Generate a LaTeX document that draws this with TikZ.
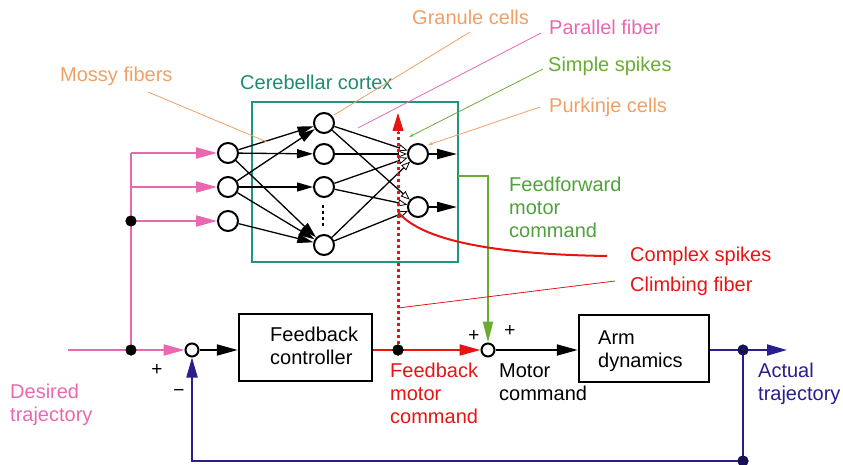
\documentclass[tikz,border=0pt]{standalone}
\usepackage{fontspec}
\setmainfont{Liberation Sans}
\usetikzlibrary{arrows.meta}
\definecolor{cpink}{RGB}{232,105,175}
\definecolor{corange}{RGB}{240,160,100}
\definecolor{cgreen}{RGB}{105,172,50}
\definecolor{cgreent}{RGB}{80,160,60}
\definecolor{cteal}{RGB}{30,150,130}
\definecolor{ctealt}{RGB}{30,140,110}
\definecolor{cred}{RGB}{232,20,20}
\definecolor{cnavy}{RGB}{40,30,140}
\begin{document}
\begin{tikzpicture}[x=1pt,y=-1pt,
  every node/.style={inner sep=0pt},
  lbl/.style={anchor=base west, align=left, font=\fontsize{20}{23}\selectfont},
  pm/.style={font=\fontsize{19}{19}\selectfont},
  neuron/.style={circle, draw, line width=2pt, minimum size=20pt, fill=white},
  sumn/.style={circle, draw, line width=2pt, minimum size=13pt, fill=white},
  jdot/.style={circle, fill, minimum size=11pt},
  blk/.style={draw, line width=2.5pt, fill=white},
  syn/.style={line width=1.3pt, -{Triangle[length=16pt,width=9pt]}},
  psyn/.style={line width=1.3pt, -{Triangle[open,length=9pt,width=7pt,fill=white,line width=0.8pt]}},
  outa/.style={line width=2pt, -{Triangle[length=20pt,width=10pt]}},
  big/.style={line width=2pt, -{Triangle[length=21pt,width=11pt]}},
  note/.style={line width=0.8pt},
  notea/.style={line width=0.8pt, -{Stealth[length=5pt,width=3pt]}},
]
\useasboundingbox (0,0) rectangle (843,465);

% ---------- cortex box ----------
\node[draw=cteal, line width=2pt, minimum width=206pt, minimum height=160pt] (cortex) at (355,182) {};
\node[lbl, text=ctealt] (lcortex) at (240,90) {Cerebellar cortex};

% ---------- neurons ----------
\node[neuron] (i1) at (228,153) {};
\node[neuron] (i2) at (228,187) {};
\node[neuron] (i3) at (228,221) {};
\node[neuron] (g1) at (324,123) {};
\node[neuron] (g2) at (324,154) {};
\node[neuron] (g3) at (324,187) {};
\node[neuron] (g4) at (324,245) {};
\node[neuron] (p1) at (418,154) {};
\node[neuron] (p2) at (418,207) {};
\coordinate (d1) at (323,205);
\coordinate (d2) at (323,227);
\draw[line width=1.5pt, dash pattern=on 3pt off 3pt] (d1) -- (d2);

% mossy -> granule
\draw[syn] (i1) -- (g1);
\draw[syn] (i1) -- (g2);
\draw[syn] (i1) -- (g4);
\draw[syn] (i2) -- (g1);
\draw[syn] (i2) -- (g3);
\draw[syn] (i2) -- (g4);
\draw[syn] (i3) -- (g4);

% parallel fibers -> purkinje
\draw[psyn] (g1) -- (p1);
\draw[psyn] (g1) -- (p2);
\draw[psyn] (g2) -- (p1);
\draw[psyn] (g3) -- (p1);
\draw[psyn] (g3) -- (p2);
\draw[psyn] (g4) -- (p1);
\draw[psyn] (g4) -- (p2);

% purkinje outputs
\coordinate (o1) at (457,154);
\coordinate (o2) at (457,207);
\draw[outa] (p1) -- (o1);
\draw[outa] (p2) -- (o2);

% ---------- pink inputs ----------
\coordinate (ptop) at (131,153);
\coordinate (pmid) at (131,187);
\node[jdot] (jp3) at (131,221) {};
\node[jdot] (jin) at (131,350) {};
\coordinate (dstart) at (68,350);
\node[sumn] (sum1) at (192,350) {};
\draw[cpink, line width=2pt] (ptop) -- (jin.center);
\draw[cpink, big] (ptop) -- (i1);
\draw[cpink, big] (pmid) -- (i2);
\draw[cpink, big] (jp3.center) -- (i3);
\draw[cpink, line width=2pt] (dstart) -- (jin.center);
\draw[cpink, big] (jin.center) -- (sum1);
\node[jdot] at (jp3) {};
\node[jdot] at (jin) {};

% ---------- blocks ----------
\node[blk, minimum width=133pt, minimum height=67pt] (fbc) at (305.5,347.5) {};
\node[lbl] (fbct) at (270,364) {Feedback\\controller};
\node[blk, minimum width=130pt, minimum height=67pt] (arm) at (644,348.5) {};
\node[lbl] (armt) at (598,367) {Arm\\dynamics};
\node[sumn] (sum2) at (488,350) {};

\draw[big] (sum1) -- (fbc.west |- sum1);

% red feedback motor command
\node[jdot, fill=black] (jred) at (398,350) {};
\draw[cred, big] (fbc.east |- sum2) -- (sum2);
\node[jdot, fill=black] at (jred) {};

% green feedforward
\coordinate (ffo) at (458,176);
\coordinate (ffc) at (488,176);
\draw[cgreen, line width=2pt, -{Triangle[length=21pt,width=10pt]}] (ffo) -- (ffc) -- (sum2);

% motor command
\draw[big] (sum2) -- (arm.west |- sum2);

% actual trajectory
\node[jdot, fill=cnavy!70!black] (jout) at (743,350) {};
\node[jdot, fill=cnavy!70!black] (jbot) at (743,461) {};
\coordinate (atip) at (787,350);
\draw[cnavy, line width=2pt, -{Triangle[length=20pt,width=11pt]}] (arm.east |- jout) -- (atip);
\draw[cnavy, line width=2pt] (jout.center) -- (jbot.center);
\draw[cnavy, line width=2pt, -{Triangle[length=20pt,width=11pt]}] (jbot.center) -| (sum1);
\node[jdot, fill=cnavy!60!black] at (jout) {};
\node[jdot, fill=cnavy!60!black] at (jbot) {};

% red climbing fiber (dashed)
\coordinate (redtip) at (398,113);
\draw[cred, line width=3pt, dash pattern=on 3pt off 3pt] (jred.center) -- (398,132);
\draw[cred, line width=1pt, -{Triangle[length=18pt,width=11pt]}] (398,134) -- (redtip);
\node[jdot, fill=black] at (jred) {};

% complex spikes curve
\coordinate (cs0) at (398,212);
\coordinate (cs1) at (607,256);
\draw[cred, line width=2pt] (cs0) .. controls (418,236) and (475,254) .. (cs1);

% ---------- annotation lines ----------
\coordinate (mo0) at (148,92);   \coordinate (mo1) at (267,142);
\coordinate (gr0) at (470,32);   \coordinate (gr1) at (334,115);
\coordinate (pa0) at (541,33);   \coordinate (pa1) at (358,128);
\coordinate (si0) at (543,69);   \coordinate (si1) at (409,137);
\coordinate (pu0) at (540,107);  \coordinate (pu1) at (428,145);
\coordinate (cl0) at (398,308);  \coordinate (cl1) at (615,281);
\draw[note, corange] (mo0) -- (mo1);
\draw[note, corange] (gr0) -- (gr1);
\draw[note, cpink] (pa0) -- (pa1);
\draw[notea, cgreen] (si0) -- (si1);
\draw[notea, corange] (pu0) -- (pu1);
\draw[note, cred] (cl0) -- (cl1);

% ---------- labels ----------
\node[lbl, text=corange] (lmossy) at (60,82) {Mossy fibers};
\node[lbl, text=corange] (lgran) at (412,25) {Granule cells};
\node[lbl, text=cpink] (lpar) at (549,35) {Parallel fiber};
\node[lbl, text=cgreen] (lsimp) at (548,72) {Simple spikes};
\node[lbl, text=corange] (lpurk) at (549,113) {Purkinje cells};
\node[lbl, text=cgreent] (lff) at (509,237) {Feedforward\\motor\\command};
\node[lbl, text=cred] (lcs) at (630,261) {Complex spikes};
\node[lbl, text=cred] (lcf) at (630,291) {Climbing fiber};
\node[lbl, text=cpink] (ldes) at (10,421) {Desired\\trajectory};
\node[lbl, text=cred] (lfbm) at (390,423) {Feedback\\motor\\command};
\node[lbl] (lmc) at (499,400) {Motor\\command};
\node[lbl, text=cnavy] (lact) at (758,400) {Actual\\trajectory};
\node[pm] (plus1) at (157,370) {+};
\node[pm] (minus1) at (179,393) {\textminus};
\node[pm] (plus2) at (474,336) {+};
\node[pm] (plus3) at (510,331) {+};
\end{tikzpicture}
\end{document}
